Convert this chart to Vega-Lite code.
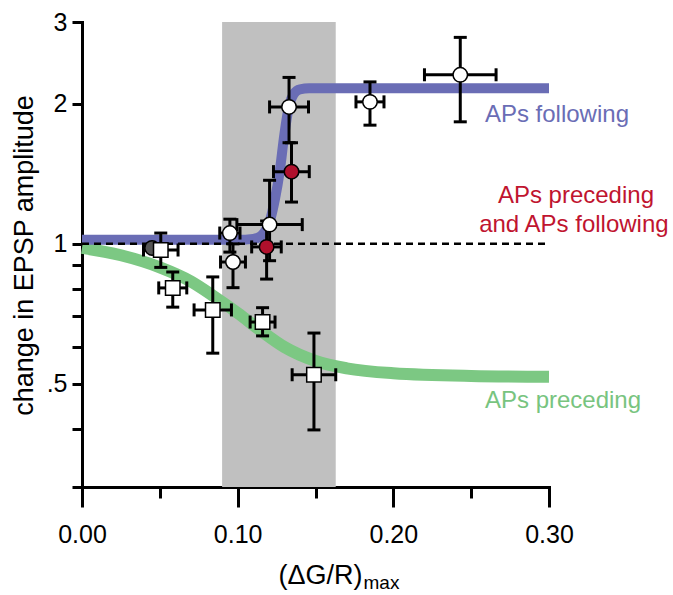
{
  "$schema": "https://vega.github.io/schema/vega-lite/v6.json",
  "width": 467,
  "height": 465,
  "autosize": "none",
  "padding": {"left": 82, "top": 22, "right": 124, "bottom": 108},
  "config": {
    "view": {"stroke": null},
    "font": "Liberation Sans",
    "axis": {"labelFlush": false, "labelOverlap": false, "grid": false, "domainColor": "black", "tickColor": "black", "labelColor": "black", "titleColor": "black", "titleFontWeight": "normal", "domainWidth": 3, "tickWidth": 3, "domainCap": "square"}
  },
  "datasets": {
    "band": [{"x1": 0.09, "x2": 0.163, "y1": 0.3, "y2": 3}],
    "green": [
      {"x": 0.0, "y": 0.98}, {"x": 0.025, "y": 0.945}, {"x": 0.05, "y": 0.89}, {"x": 0.07, "y": 0.83},
      {"x": 0.085, "y": 0.77}, {"x": 0.1, "y": 0.71}, {"x": 0.115, "y": 0.65}, {"x": 0.13, "y": 0.6},
      {"x": 0.15, "y": 0.56}, {"x": 0.17, "y": 0.54}, {"x": 0.2, "y": 0.527}, {"x": 0.25, "y": 0.52}, {"x": 0.3, "y": 0.518}
    ],
    "blue": [
      {"x": 0.0, "y": 1.02}, {"x": 0.1, "y": 1.02}, {"x": 0.11, "y": 1.025}, {"x": 0.115, "y": 1.04},
      {"x": 0.118, "y": 1.07}, {"x": 0.121, "y": 1.13}, {"x": 0.124, "y": 1.25}, {"x": 0.127, "y": 1.43},
      {"x": 0.13, "y": 1.72}, {"x": 0.133, "y": 1.98}, {"x": 0.136, "y": 2.1}, {"x": 0.14, "y": 2.15},
      {"x": 0.146, "y": 2.16}, {"x": 0.3, "y": 2.16}
    ],
    "dash": [{"x": 0.0, "y": 1}, {"x": 0.3, "y": 1}],
    "pts": [
      {"g": "hidden", "x": 0.045, "y": 0.98, "xlo": 0.045, "xhi": 0.045, "ylo": 0.98, "yhi": 0.98},
      {"g": "preceding", "x": 0.0506, "y": 0.97, "xlo": 0.0395, "xhi": 0.0617, "ylo": 0.89, "yhi": 1.055},
      {"g": "preceding", "x": 0.0583, "y": 0.804, "xlo": 0.0493, "xhi": 0.0673, "ylo": 0.731, "yhi": 0.87},
      {"g": "preceding", "x": 0.084, "y": 0.721, "xlo": 0.072, "xhi": 0.096, "ylo": 0.582, "yhi": 0.849},
      {"g": "preceding", "x": 0.116, "y": 0.679, "xlo": 0.108, "xhi": 0.124, "ylo": 0.634, "yhi": 0.729},
      {"g": "preceding", "x": 0.149, "y": 0.523, "xlo": 0.135, "xhi": 0.163, "ylo": 0.398, "yhi": 0.643},
      {"g": "following", "x": 0.095, "y": 1.055, "xlo": 0.0885, "xhi": 0.1015, "ylo": 0.96, "yhi": 1.13},
      {"g": "following", "x": 0.097, "y": 0.914, "xlo": 0.089, "xhi": 0.105, "ylo": 0.805, "yhi": 1.0},
      {"g": "following", "x": 0.1205, "y": 1.1, "xlo": 0.0995, "xhi": 0.1415, "ylo": 0.92, "yhi": 1.37},
      {"g": "following", "x": 0.133, "y": 1.97, "xlo": 0.1205, "xhi": 0.1455, "ylo": 1.65, "yhi": 2.28},
      {"g": "following", "x": 0.185, "y": 2.02, "xlo": 0.176, "xhi": 0.194, "ylo": 1.8, "yhi": 2.23},
      {"g": "following", "x": 0.243, "y": 2.31, "xlo": 0.22, "xhi": 0.266, "ylo": 1.83, "yhi": 2.78},
      {"g": "both", "x": 0.1186, "y": 0.985, "xlo": 0.109, "xhi": 0.128, "ylo": 0.84, "yhi": 1.12},
      {"g": "both", "x": 0.1346, "y": 1.43, "xlo": 0.123, "xhi": 0.146, "ylo": 1.23, "yhi": 1.65}
    ],
    "labels": [
      {"g": "following", "text": "APs following", "x": 0.3051, "y": 1.828},
      {"g": "both", "text": "APs preceding", "x": 0.3173, "y": 1.225},
      {"g": "both", "text": "and APs following", "x": 0.316, "y": 1.06},
      {"g": "preceding", "text": "APs preceding", "x": 0.309, "y": 0.444}
    ]
  },
  "resolve": {"axis": {"x": "independent"}},
  "layer": [
    {
      "data": {"name": "band"},
      "mark": {"type": "rect", "color": "#c0c0c0"},
      "encoding": {
        "x": {"field": "x1", "type": "quantitative", "scale": {"domain": [0, 0.3], "nice": false, "zero": false},
          "axis": {"orient": "bottom", "values": [0, 0.1, 0.2, 0.3], "format": ".2f", "tickSize": 20, "labelPadding": 15, "labelFontSize": 25,
            "title": "(ΔG/R)", "titleFontSize": 27, "titleAlign": "left", "titleAnchor": "start", "titleX": 196, "titleY": 96, "titleBaseline": "alphabetic"}},
        "x2": {"field": "x2"},
        "y": {"field": "y1", "type": "quantitative", "scale": {"type": "log", "domain": [0.3, 3], "nice": false},
          "axis": {"values": [0.3, 0.4, 0.5, 0.6, 0.7, 0.8, 0.9, 1, 2, 3], "tickSize": 10, "labelPadding": 5, "labelFontSize": 25,
            "labelExpr": "datum.value == 0.5 ? '.5' : (datum.value == 1 ? '1' : (datum.value == 2 ? '2' : (datum.value == 3 ? '3' : '')))",
            "title": "change in EPSP amplitude", "titleFontSize": 27, "titleX": -50, "titleY": 233, "titleBaseline": "alphabetic", "titleAngle": -90, "titleAlign": "center"}},
        "y2": {"field": "y2"}
      }
    },
    {
      "data": {"name": "green"},
      "mark": {"type": "line", "color": "#7cc883", "strokeWidth": 12, "interpolate": "monotone", "strokeCap": "butt"},
      "encoding": {
        "x": {"field": "x", "type": "quantitative", "axis": null},
        "y": {"field": "y", "type": "quantitative"}
      }
    },
    {
      "data": {"name": "blue"},
      "mark": {"type": "line", "color": "#6a6db5", "strokeWidth": 10, "interpolate": "monotone", "strokeCap": "butt"},
      "encoding": {
        "x": {"field": "x", "type": "quantitative", "axis": null},
        "y": {"field": "y", "type": "quantitative"}
      }
    },
    {
      "data": {"name": "dash"},
      "mark": {"type": "line", "color": "black", "strokeWidth": 2.5, "strokeDash": [7, 5]},
      "encoding": {
        "x": {"field": "x", "type": "quantitative",
          "axis": {"orient": "bottom", "values": [0.05, 0.15, 0.25], "tickSize": 11, "labels": false, "domain": false,
            "title": "max", "titleFontSize": 19, "titleAlign": "left", "titleAnchor": "start", "titleX": 281, "titleY": 101, "titleBaseline": "alphabetic"}},
        "y": {"field": "y", "type": "quantitative"}
      }
    },
    {
      "data": {"name": "pts"},
      "transform": [{"filter": "datum.g != 'hidden'"}],
      "mark": {"type": "rule", "color": "black", "strokeWidth": 3},
      "encoding": {
        "x": {"field": "x", "type": "quantitative", "axis": null},
        "y": {"field": "ylo", "type": "quantitative"},
        "y2": {"field": "yhi"}
      }
    },
    {
      "data": {"name": "pts"},
      "transform": [{"filter": "datum.g != 'hidden'"}],
      "mark": {"type": "rule", "color": "black", "strokeWidth": 3},
      "encoding": {
        "x": {"field": "xlo", "type": "quantitative", "axis": null},
        "x2": {"field": "xhi"},
        "y": {"field": "y", "type": "quantitative"}
      }
    },
    {
      "data": {"name": "pts"},
      "transform": [{"filter": "datum.g != 'hidden'"}],
      "mark": {"type": "tick", "orient": "horizontal", "color": "black", "size": 13, "thickness": 3, "opacity": 1},
      "encoding": {
        "x": {"field": "x", "type": "quantitative", "axis": null},
        "y": {"field": "ylo", "type": "quantitative"}
      }
    },
    {
      "data": {"name": "pts"},
      "transform": [{"filter": "datum.g != 'hidden'"}],
      "mark": {"type": "tick", "orient": "horizontal", "color": "black", "size": 13, "thickness": 3, "opacity": 1},
      "encoding": {
        "x": {"field": "x", "type": "quantitative", "axis": null},
        "y": {"field": "yhi", "type": "quantitative"}
      }
    },
    {
      "data": {"name": "pts"},
      "transform": [{"filter": "datum.g != 'hidden'"}],
      "mark": {"type": "tick", "orient": "vertical", "color": "black", "size": 13, "thickness": 3, "opacity": 1},
      "encoding": {
        "x": {"field": "xlo", "type": "quantitative", "axis": null},
        "y": {"field": "y", "type": "quantitative"}
      }
    },
    {
      "data": {"name": "pts"},
      "transform": [{"filter": "datum.g != 'hidden'"}],
      "mark": {"type": "tick", "orient": "vertical", "color": "black", "size": 13, "thickness": 3, "opacity": 1},
      "encoding": {
        "x": {"field": "xhi", "type": "quantitative", "axis": null},
        "y": {"field": "y", "type": "quantitative"}
      }
    },
    {
      "data": {"name": "pts"},
      "mark": {"type": "point", "filled": true, "size": 210, "stroke": "black", "strokeWidth": 1.5, "opacity": 1},
      "encoding": {
        "x": {"field": "x", "type": "quantitative", "axis": null},
        "y": {"field": "y", "type": "quantitative"},
        "shape": {"field": "g", "type": "nominal", "legend": null,
          "scale": {"domain": ["hidden", "preceding", "following", "both"], "range": ["circle", "square", "circle", "circle"]}},
        "fill": {"field": "g", "type": "nominal", "legend": null,
          "scale": {"domain": ["hidden", "preceding", "following", "both"], "range": ["#555555", "white", "white", "#b0102c"]}}
      }
    },
    {
      "data": {"name": "labels"},
      "mark": {"type": "text", "fontSize": 24, "align": "center", "baseline": "alphabetic"},
      "encoding": {
        "x": {"field": "x", "type": "quantitative", "axis": null},
        "y": {"field": "y", "type": "quantitative"},
        "text": {"field": "text"},
        "color": {"field": "g", "type": "nominal", "legend": null,
          "scale": {"domain": ["following", "both", "preceding"], "range": ["#6a6db5", "#c0142f", "#78c47f"]}}
      }
    }
  ]
}
